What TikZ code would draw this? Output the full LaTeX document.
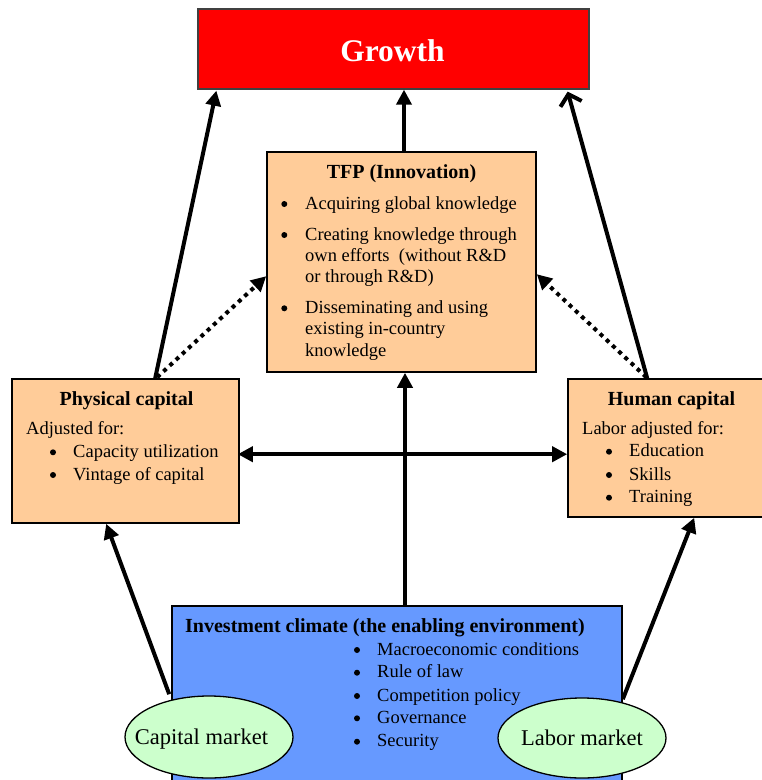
\documentclass[tikz,border=0pt]{standalone}
\usepackage{fontspec}
\setmainfont{Liberation Serif}
\usetikzlibrary{arrows.meta,calc,shapes.geometric}
\definecolor{growthred}{HTML}{FF0000}
\definecolor{peach}{HTML}{FFCC99}
\definecolor{climblue}{HTML}{6699FF}
\definecolor{mktgreen}{HTML}{CCFFCC}
\definecolor{edgegray}{HTML}{404040}
\begin{document}
\begin{tikzpicture}[x=1pt,y=-1pt,
  box/.style={draw=black,line width=1.6pt,rectangle,inner sep=0pt,anchor=center},
  mkt/.style={draw=black,line width=1.3pt,ellipse,fill=mktgreen,inner sep=0pt},
  txt/.style={anchor=base west,inner sep=0pt,font=\fontsize{18.5}{22}\selectfont},
  bul/.style={circle,fill=black,inner sep=0pt,minimum size=6pt,anchor=center,yshift=5pt},
  ttl/.style={anchor=base,inner sep=0pt,font=\fontsize{20}{24}\selectfont\bfseries},
  mtxt/.style={anchor=base,inner sep=0pt,font=\fontsize{22.5}{26}\selectfont},
  arr/.style={line width=4pt,-{Triangle[length=15pt,width=15pt]}},
  openarr/.style={line width=4pt,-{Straight Barb[length=10pt,width=22pt,line width=4pt]}},
  dblarr/.style={line width=4pt,{Triangle[length=15pt,width=15pt]}-{Triangle[length=15pt,width=15pt]}},
  dotarr/.style={line width=4pt,dash pattern=on 4pt off 4.5pt,-{Triangle[length=15pt,width=15pt]}}
]
\useasboundingbox (0,0) rectangle (762,780);

% boxes
\node[box,draw=edgegray,line width=1.3pt,fill=growthred,minimum width=391pt,minimum height=80pt] (growth) at (393.5,49) {};
\node[box,fill=peach,minimum width=269pt,minimum height=220pt] (tfp) at (401.5,262) {};
\node[box,fill=peach,minimum width=227pt,minimum height=144pt] (phys) at (125.5,451) {};
\node[box,fill=peach,minimum width=207pt,minimum height=138pt] (hum) at (671.5,448) {};
\node[box,fill=climblue,minimum width=450pt,minimum height=194pt] (inv) at (397,703) {};
\node[mkt,minimum width=168pt,minimum height=82pt] (capm) at (209,737) {};
\node[mkt,minimum width=168pt,minimum height=80pt] (labm) at (582,738) {};

% texts
\node[anchor=base,inner sep=0pt,text=white,font=\fontsize{31.5}{36}\selectfont\bfseries] (growtht) at (392.5,61.7) {Growth};

\node[ttl] (tfpt) at (401.5,178.3) {TFP (Innovation)};
\node[bul] (tfpb1) at (284.3,209) {};
\node[bul] (tfpb2) at (284.3,240) {};
\node[bul] (tfpb3) at (284.3,313.3) {};
\node[txt] (tfp1) at (305,209) {Acquiring global knowledge};
\node[txt] (tfp2) at (305,240) {Creating knowledge through};
\node[txt] (tfp3) at (305,261.7) {own efforts~ (without R\&D};
\node[txt] (tfp4) at (305,282.7) {or through R\&D)};
\node[txt] (tfp5) at (305,313.3) {Disseminating and using};
\node[txt] (tfp6) at (305,334.3) {existing in-country};
\node[txt] (tfp7) at (305,356) {knowledge};

\node[ttl] (physt) at (126.5,405) {Physical capital};
\node[txt] (phys0) at (26,434) {Adjusted for:};
\node[bul] (physb1) at (53,457.3) {};
\node[bul] (physb2) at (53,480) {};
\node[txt] (phys1) at (73,457.3) {Capacity utilization};
\node[txt] (phys2) at (73,480) {Vintage of capital};

\node[ttl] (humt) at (671.5,405) {Human capital};
\node[txt] (hum0) at (582,434) {Labor adjusted for:};
\node[bul] (humb1) at (609,456.7) {};
\node[bul] (humb2) at (609,480) {};
\node[bul] (humb3) at (609,502.7) {};
\node[txt] (hum1) at (629,456.7) {Education};
\node[txt] (hum2) at (629,480) {Skills};
\node[txt] (hum3) at (629,502.7) {Training};

\node[ttl,anchor=base west] (invt) at (185,632.7) {Investment climate (the enabling environment)};
\node[bul] (invb1) at (357,655) {};
\node[bul] (invb2) at (357,677.7) {};
\node[bul] (invb3) at (357,701) {};
\node[bul] (invb4) at (357,723.3) {};
\node[bul] (invb5) at (357,746.7) {};
\node[txt] (inv1) at (377,655) {Macroeconomic conditions};
\node[txt] (inv2) at (377,677.7) {Rule of law};
\node[txt] (inv3) at (377,701) {Competition policy};
\node[txt] (inv4) at (377,723.3) {Governance};
\node[txt] (inv5) at (377,746.7) {Security};

\node[mtxt] (capmt) at (201.5,744) {Capital market};
\node[mtxt] (labmt) at (582,745.7) {Labor market};

% connectors
\draw[arr] ($(phys.north west)+(144,0)$) -- ($(growth.south west)+(19,1)$);
\draw[arr] ($(tfp.north)+(2.5,0)$) -- ($(growth.south)+(10.5,0)$);
\draw[openarr] ($(hum.north west)+(80,0)$) -- ($(growth.south east)+(-22,2)$);
\draw[dotarr] ($(phys.north west)+(146,-1)$) -- ($(tfp.north west)+(0,125)$);
\draw[dotarr] ($(hum.north west)+(79,-1)$) -- ($(tfp.north east)+(0,123)$);
\draw[dblarr] ($(phys.north east)+(-2,76)$) -- ($(hum.north west)+(0,76)$);
\draw[arr] ($(inv.north)+(8,0)$) -- ($(tfp.south)+(3.5,0)$);
\draw[arr] ($(inv.north west)+(-2,89)$) -- ($(phys.south west)+(95,0)$);
\draw[arr] ($(inv.north east)+(0,94)$) -- ($(hum.south west)+(127,0)$);
\end{tikzpicture}
\end{document}
